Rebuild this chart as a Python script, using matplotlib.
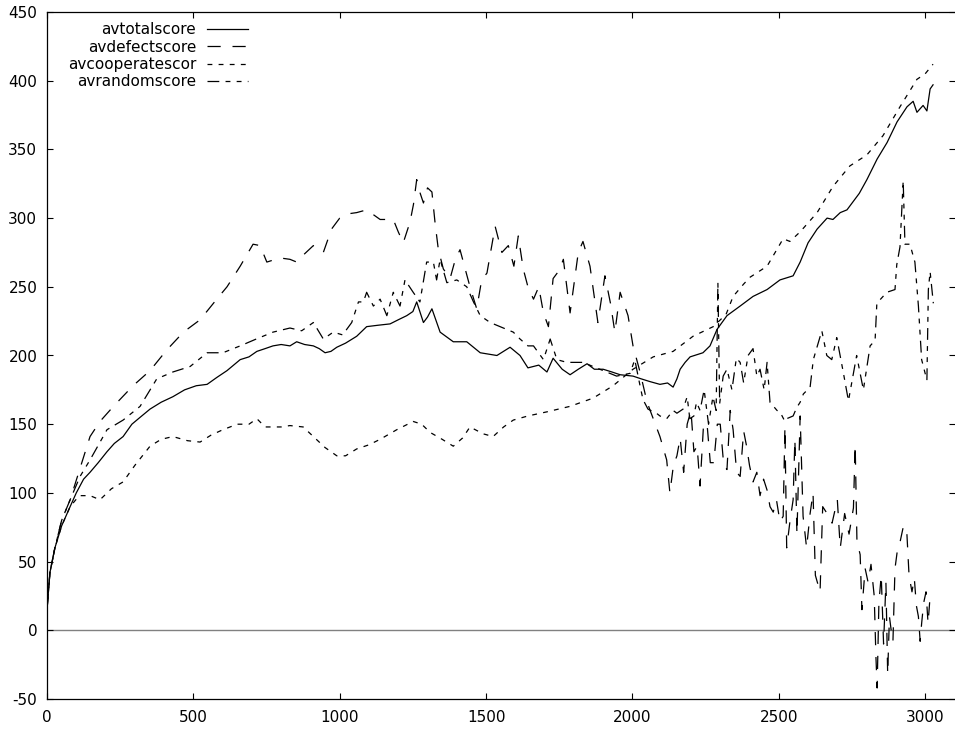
import matplotlib
matplotlib.use("Agg")
import matplotlib.pyplot as plt

# average score per strategy over the generations of the run
total_x = [0, 10, 27, 50, 79, 100, 125, 147, 175, 205,
           230, 260, 290, 318, 352, 390, 430, 470, 510, 547,
           580, 615, 660, 690, 717, 745, 772, 800, 830, 853,
           880, 910, 930, 950, 970, 990, 1020, 1058, 1092, 1130,
           1172, 1200, 1229, 1250, 1263, 1286, 1300, 1315, 1343, 1388,
           1434, 1480, 1537, 1582, 1616, 1643, 1680, 1708, 1729, 1760,
           1787, 1815, 1845, 1870, 1900, 1930, 1958, 2002, 2030, 2060,
           2094, 2120, 2139, 2152, 2163, 2180, 2197, 2241, 2265, 2289,
           2323, 2368, 2412, 2460, 2504, 2549, 2573, 2600, 2631, 2665,
           2685, 2710, 2733, 2754, 2775, 2801, 2836, 2870, 2904, 2938,
           2959, 2972, 2993, 3006, 3017, 3027]
total_y = [15, 42, 60, 76, 90, 100, 110, 115, 122, 130,
           136, 141, 150, 155, 161, 166, 170, 175, 178, 179,
           184, 189, 197, 199, 203, 205, 207, 208, 207, 210,
           208, 207, 205, 202, 203, 206, 209, 214, 221, 222,
           223, 226, 229, 232, 239, 224, 228, 234, 217, 210,
           210, 202, 200, 206, 200, 191, 193, 188, 198, 190,
           186, 190, 194, 190, 190, 188, 186, 185, 183, 181,
           179, 180, 177, 183, 190, 195, 199, 202, 207, 219,
           229, 236, 243, 248, 255, 258, 268, 282, 292, 300,
           299, 304, 306, 312, 318, 328, 343, 355, 370, 381,
           385, 377, 382, 378, 394, 397]

defect_x = [0, 10, 27, 50, 79, 113, 147, 181, 227, 294,
            352, 409, 466, 523, 580, 615, 660, 704, 728, 751,
            796, 830, 853, 880, 910, 944, 972, 1000, 1025, 1058,
            1092, 1138, 1183, 1200, 1217, 1240, 1252, 1263, 1275, 1286,
            1300, 1315, 1326, 1337, 1354, 1377, 1395, 1411, 1430, 1445,
            1468, 1485, 1503, 1531, 1554, 1576, 1595, 1610, 1627, 1643,
            1662, 1680, 1696, 1713, 1729, 1750, 1764, 1787, 1815, 1831,
            1855, 1882, 1906, 1925, 1940, 1958, 1985, 2002, 2026, 2050,
            2071, 2094, 2117, 2128, 2140, 2152, 2163, 2175, 2187, 2200,
            2210, 2221, 2231, 2243, 2255, 2266, 2278, 2290, 2300, 2312,
            2323, 2334, 2344, 2356, 2368, 2380, 2390, 2400, 2412, 2425,
            2436, 2448, 2460, 2470, 2481, 2492, 2504, 2515, 2521, 2527,
            2538, 2549, 2555, 2562, 2573, 2583, 2595, 2607, 2617, 2625,
            2641, 2650, 2665, 2682, 2700, 2710, 2725, 2740, 2755, 2761,
            2767, 2778, 2784, 2795, 2805, 2815, 2826, 2832, 2836, 2842,
            2850, 2858, 2866, 2872, 2878, 2884, 2890, 2897, 2905, 2915,
            2926, 2937, 2945, 2955, 2963, 2970, 2977, 2983, 2988, 2995,
            3003, 3010, 3017, 3027]
defect_y = [15, 42, 60, 80, 95, 118, 141, 152, 163, 178,
            189, 204, 217, 226, 241, 250, 265, 281, 280, 268,
            271, 270, 268, 274, 280, 275, 292, 300, 303, 304,
            306, 299, 299, 290, 282, 297, 310, 328, 318, 311,
            322, 319, 296, 277, 263, 256, 270, 277, 262, 250,
            234, 255, 260, 294, 275, 280, 265, 287, 263, 250,
            241, 250, 231, 221, 256, 262, 270, 231, 275, 283,
            265, 224, 258, 238, 217, 246, 229, 207, 188, 166,
            154, 141, 124, 100, 120, 127, 140, 115, 150, 160,
            130, 134, 105, 150, 150, 122, 122, 150, 150, 120,
            117, 160, 146, 115, 112, 145, 134, 120, 108, 115,
            98, 110, 102, 90, 86, 95, 79, 83, 148, 60,
            79, 95, 139, 70, 156, 83, 60, 85, 100, 40,
            28, 90, 85, 78, 95, 60, 85, 70, 89, 135,
            65, 55, 15, 45, 35, 48, 25, -20, -42, 20,
            40, -10, 35, -32, 10, 0, -8, 45, 58, 65,
            76, 73, 40, 28, 38, 18, 10, -8, 5, 20,
            28, 5, 25, 27]

coop_x = [0, 10, 27, 50, 79, 110, 147, 181, 220, 260,
          300, 352, 390, 430, 480, 523, 560, 601, 650, 690,
          717, 745, 772, 800, 830, 875, 910, 950, 990, 1020,
          1058, 1100, 1138, 1195, 1251, 1280, 1309, 1350, 1388, 1420,
          1445, 1490, 1524, 1560, 1593, 1643, 1708, 1787, 1866, 1934,
          2002, 2071, 2139, 2207, 2276, 2320, 2344, 2380, 2402, 2460,
          2515, 2538, 2573, 2631, 2685, 2743, 2801, 2856, 2914, 2972,
          3000, 3027]
coop_y = [15, 42, 60, 76, 90, 98, 98, 95, 103, 108,
          120, 134, 139, 141, 138, 137, 142, 146, 150, 150,
          154, 148, 148, 148, 149, 148, 141, 133, 127, 127,
          132, 135, 139, 146, 152, 150, 144, 139, 134, 140,
          148, 143, 141, 148, 153, 156, 159, 163, 169, 178,
          190, 199, 203, 214, 221, 230, 243, 252, 257, 265,
          285, 283, 290, 304, 323, 338, 346, 360, 381, 401,
          405, 412]

random_x = [0, 10, 27, 50, 79, 113, 147, 205, 260, 318,
            375, 430, 489, 547, 601, 660, 715, 772, 830, 870,
            910, 944, 978, 1010, 1041, 1064, 1081, 1092, 1115, 1138,
            1161, 1183, 1206, 1223, 1251, 1274, 1297, 1320, 1331, 1343,
            1366, 1400, 1434, 1457, 1480, 1514, 1548, 1593, 1616, 1643,
            1662, 1696, 1719, 1742, 1776, 1831, 1889, 1946, 1992, 2008,
            2026, 2036, 2053, 2082, 2094, 2117, 2139, 2152, 2173, 2187,
            2196, 2210, 2219, 2231, 2245, 2260, 2275, 2286, 2292, 2298,
            2310, 2323, 2340, 2355, 2368, 2380, 2395, 2412, 2425, 2436,
            2450, 2460, 2470, 2494, 2504, 2521, 2527, 2549, 2561, 2573,
            2584, 2607, 2618, 2647, 2664, 2681, 2698, 2721, 2738, 2766,
            2789, 2812, 2829, 2835, 2869, 2897, 2903, 2914, 2925, 2931,
            2948, 2965, 2977, 2988, 3006, 3011, 3017, 3028]
random_y = [15, 42, 60, 80, 95, 112, 124, 146, 153, 163,
            183, 188, 192, 202, 202, 207, 212, 217, 220, 218,
            224, 212, 217, 215, 224, 239, 239, 246, 236, 241,
            229, 246, 236, 255, 246, 239, 268, 268, 255, 270,
            253, 255, 250, 239, 229, 224, 221, 217, 212, 207,
            207, 197, 212, 197, 195, 195, 190, 185, 187, 197,
            178, 168, 161, 158, 156, 154, 160, 158, 161, 170,
            154, 156, 166, 160, 175, 150, 170, 160, 253, 165,
            185, 190, 175, 198, 195, 180, 200, 205, 185, 190,
            175, 195, 166, 160, 159, 152, 154, 156, 162, 166,
            172, 177, 197, 218, 200, 197, 213, 187, 167, 200,
            175, 207, 211, 238, 246, 248, 266, 279, 327, 281,
            281, 268, 236, 197, 182, 248, 261, 238]

x_ticks = [0, 500, 1000, 1500, 2000, 2500, 3000]
y_ticks = [-50, 0, 50, 100, 150, 200, 250, 300, 350, 400, 450]

plt.rcParams['font.family'] = 'DejaVu Sans'
plt.rcParams['lines.scale_dashes'] = False
plt.rcParams['axes.unicode_minus'] = False

fig = plt.figure(figsize=(9.55, 7.35), dpi=100)
ax = fig.add_axes([47 / 955, 36 / 735, 908 / 955, 687 / 735])

lw = 0.9
ax.axhline(0, color='#808080', lw=1.0, zorder=1)
ax.plot(total_x, total_y, color='black', lw=lw, label='avtotalscore')
ax.plot(defect_x, defect_y, color='black', lw=lw, dashes=(9.5, 8.5),
        label='avdefectscore')
ax.plot(coop_x, coop_y, color='black', lw=lw, dashes=(3.5, 4.5),
        label='avcooperatescor')
ax.plot(random_x, random_y, color='black', lw=lw,
        dashes=(8.5, 4.5, 3.5, 4.5, 3.5, 4.5), label='avrandomscore')

ax.set_xlim(0, 3102)
ax.set_ylim(-50, 450)
ax.set_xticks(x_ticks)
ax.set_yticks(y_ticks)
ax.tick_params(direction='in', length=4.3, width=0.8, top=True, right=True,
               labelsize=11, colors='black')
ax.tick_params(axis='x', pad=8)
ax.tick_params(axis='y', pad=7)
for side in ['left', 'bottom', 'top']:
    ax.spines[side].set_linewidth(0.9)
ax.spines['right'].set_visible(False)

ax.legend(loc='upper left', bbox_to_anchor=(0.023, 0.985), frameon=False,
          markerfirst=False, fontsize=11, handlelength=2.7,
          handletextpad=0.7, labelspacing=0.15, borderpad=0,
          borderaxespad=0)

fig.savefig('out.png', dpi=100)
